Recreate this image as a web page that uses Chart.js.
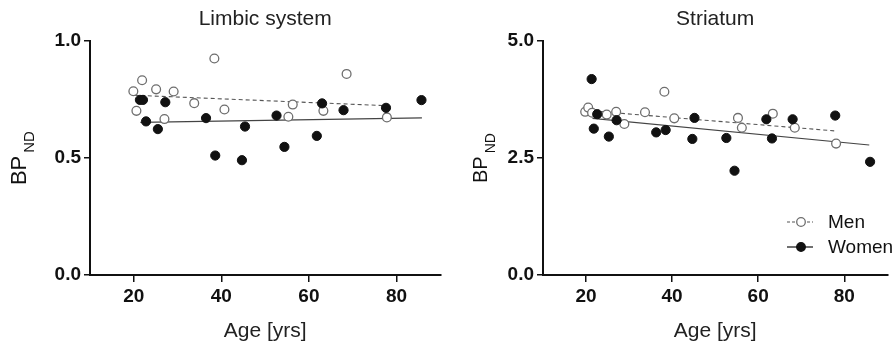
<!DOCTYPE html>
<html>
<head>
<script src="https://cdn.jsdelivr.net/npm/chart.js"></script>
<title>BPND vs age</title>
<style>
  body { margin: 0; background: #fff; }
  #wrap { position: relative; width: 893px; height: 348px; }
  .box { position: absolute; top: 0; height: 348px; }
</style>
</head>
<body>
<div id="wrap">
  <div class="box" style="left:0;width:446px"><canvas id="limbic"></canvas></div>
  <div class="box" style="left:446px;width:447px"><canvas id="striatum"></canvas></div>
</div>
<script>
// ages and BPND values
const limbicMenAge   = [19.9, 21.9, 20.6, 25.1, 27.0, 29.1, 33.8, 38.4, 40.7, 55.3, 56.3, 63.3, 68.6, 77.8];
const limbicMenBP    = [0.786, 0.833, 0.702, 0.794, 0.667, 0.785, 0.735, 0.926, 0.708, 0.677, 0.729, 0.702, 0.860, 0.674];
const limbicWomenAge = [21.4, 22.1, 22.8, 25.5, 27.2, 36.5, 38.6, 44.7, 45.4, 52.6, 54.4, 61.8, 63.0, 67.9, 77.6, 85.7];
const limbicWomenBP  = [0.749, 0.749, 0.657, 0.624, 0.739, 0.671, 0.511, 0.491, 0.635, 0.682, 0.548, 0.595, 0.734, 0.705, 0.715, 0.748];

const striatumMenAge   = [19.8, 20.5, 21.4, 24.8, 27.0, 28.9, 33.7, 38.2, 40.5, 55.3, 56.2, 63.4, 68.5, 78.1];
const striatumMenBP    = [3.49, 3.58, 3.47, 3.43, 3.49, 3.23, 3.48, 3.92, 3.35, 3.36, 3.15, 3.45, 3.15, 2.81];
const striatumWomenAge = [21.3, 21.8, 22.6, 25.3, 27.1, 36.3, 38.5, 44.7, 45.2, 52.6, 54.5, 61.9, 63.2, 68.0, 77.9, 86.0];
const striatumWomenBP  = [4.19, 3.13, 3.44, 2.96, 3.31, 3.05, 3.10, 2.91, 3.36, 2.93, 2.23, 3.33, 2.92, 3.33, 3.41, 2.42];

// regression line end points
const menFitAge      = [20, 78];
const womenFitAge    = [21.5, 85.8];
const limbicMenFit   = [0.769, 0.724];
const limbicWomenFit = [0.653, 0.672];
const striatumMenFit   = [3.52, 3.08];
const striatumWomenFit = [3.35, 2.78];

const xTicks = [20, 40, 60, 80];
const limbicTicks = [0, 0.5, 1.0];
const striatumTicks = [0, 2.5, 5.0];

const FONT = "'Liberation Sans', Arial, sans-serif";
const INK = '#111';
const OPEN = '#6e6e6e';

function pts(xs, ys) {
  return xs.map((x, i) => ({ x: x, y: ys[i] }));
}

// y axis title with subscript, drawn by hand
function yTitlePlugin(x, bpSize, ndSize) {
  return {
    id: 'ytitle',
    afterDraw(chart) {
      const ctx = chart.ctx;
      const cy = (chart.chartArea.top + chart.chartArea.bottom) / 2;
      ctx.save();
      ctx.fillStyle = INK;
      ctx.font = bpSize + 'px ' + FONT;
      const wBP = ctx.measureText('BP').width;
      ctx.font = ndSize + 'px ' + FONT;
      const wND = ctx.measureText('ND').width;
      const gap = 3;
      const start = -(wBP + gap + wND) / 2;
      ctx.translate(x, cy);
      ctx.rotate(-Math.PI / 2);
      ctx.textBaseline = 'alphabetic';
      ctx.textAlign = 'left';
      ctx.font = bpSize + 'px ' + FONT;
      ctx.fillText('BP', start, 0);
      ctx.font = ndSize + 'px ' + FONT;
      ctx.fillText('ND', start + wBP + gap, 8);
      ctx.restore();
    }
  };
}

const legendPlugin = {
  id: 'mylegend',
  afterDraw(chart) {
    const ctx = chart.ctx;
    const items = [
      { text: 'Men', y: 222, dash: [3, 2], line: '#555', fill: '#fff', stroke: OPEN },
      { text: 'Women', y: 247, dash: [], line: INK, fill: INK, stroke: INK }
    ];
    ctx.save();
    items.forEach(it => {
      ctx.beginPath();
      ctx.setLineDash(it.dash);
      ctx.strokeStyle = it.line;
      ctx.lineWidth = 1.2;
      ctx.moveTo(341, it.y);
      ctx.lineTo(367, it.y);
      ctx.stroke();
      ctx.setLineDash([]);
      ctx.beginPath();
      ctx.arc(355, it.y, 4.3, 0, Math.PI * 2);
      ctx.fillStyle = it.fill;
      ctx.fill();
      ctx.lineWidth = 1.3;
      ctx.strokeStyle = it.stroke;
      ctx.stroke();
      ctx.fillStyle = INK;
      ctx.font = '19px ' + FONT;
      ctx.textBaseline = 'middle';
      ctx.fillText(it.text, 382, it.y + 1);
    });
    ctx.restore();
  }
};

function makeChart(id, title, menX, menY, womenX, womenY, menFit, womenFit, ymax, yTicks, yWidth, padRight, plugins) {
  return new Chart(document.getElementById(id), {
    type: 'scatter',
    data: {
      datasets: [
        {
          label: 'Women',
          data: pts(womenX, womenY),
          backgroundColor: INK,
          borderColor: INK,
          pointRadius: 4.6,
          borderWidth: 1
        },
        {
          label: 'Men',
          data: pts(menX, menY),
          backgroundColor: '#fff',
          borderColor: OPEN,
          pointRadius: 4.4,
          borderWidth: 1.3
        },
        {
          type: 'line',
          label: 'Men fit',
          data: pts(menFitAge, menFit),
          borderColor: '#555',
          borderWidth: 1.1,
          borderDash: [4, 3],
          pointRadius: 0,
          fill: false
        },
        {
          type: 'line',
          label: 'Women fit',
          data: pts(womenFitAge, womenFit),
          borderColor: '#444',
          borderWidth: 1.2,
          pointRadius: 0,
          fill: false
        }
      ]
    },
    options: {
      responsive: true,
      maintainAspectRatio: false,
      animation: false,
      layout: { padding: { left: 0, right: padRight, top: 0, bottom: 0 } },
      plugins: {
        legend: { display: false },
        tooltip: { enabled: false },
        title: {
          display: true,
          text: title,
          fullSize: false,
          color: '#222',
          font: { family: FONT, size: 21, weight: 'normal' },
          padding: { top: 7, bottom: 9 }
        }
      },
      scales: {
        x: {
          type: 'linear',
          min: 10,
          max: 90,
          afterBuildTicks: s => { s.ticks = xTicks.map(v => ({ value: v })); },
          afterFit: s => { s.height = 73; },
          grid: { drawOnChartArea: false, drawTicks: true, tickLength: 7, color: INK, lineWidth: 1.5 },
          border: { color: INK, width: 2 },
          ticks: { color: INK, padding: 3, font: { family: FONT, size: 19, weight: 'bold' } },
          title: {
            display: true,
            text: 'Age [yrs]',
            color: '#222',
            font: { family: FONT, size: 21 },
            padding: { top: 0, bottom: 4 }
          }
        },
        y: {
          min: 0,
          max: ymax,
          afterBuildTicks: s => { s.ticks = yTicks.map(v => ({ value: v })); },
          afterFit: s => { s.width = yWidth; },
          grid: { drawOnChartArea: false, drawTicks: true, tickLength: 6, color: INK, lineWidth: 1.5 },
          border: { color: INK, width: 2 },
          ticks: {
            color: INK,
            padding: 3,
            font: { family: FONT, size: 19, weight: 'bold' },
            callback: v => v.toFixed(1)
          }
        }
      }
    },
    plugins: plugins
  });
}

makeChart('limbic', 'Limbic system', limbicMenAge, limbicMenBP, limbicWomenAge, limbicWomenBP,
  limbicMenFit, limbicWomenFit, 1.0, limbicTicks, 90, 4, [yTitlePlugin(26, 22, 15)]);

makeChart('striatum', 'Striatum', striatumMenAge, striatumMenBP, striatumWomenAge, striatumWomenBP,
  striatumMenFit, striatumWomenFit, 5.0, striatumTicks, 97, 0, [yTitlePlugin(41, 20, 14), legendPlugin]);
</script>
</body>
</html>
